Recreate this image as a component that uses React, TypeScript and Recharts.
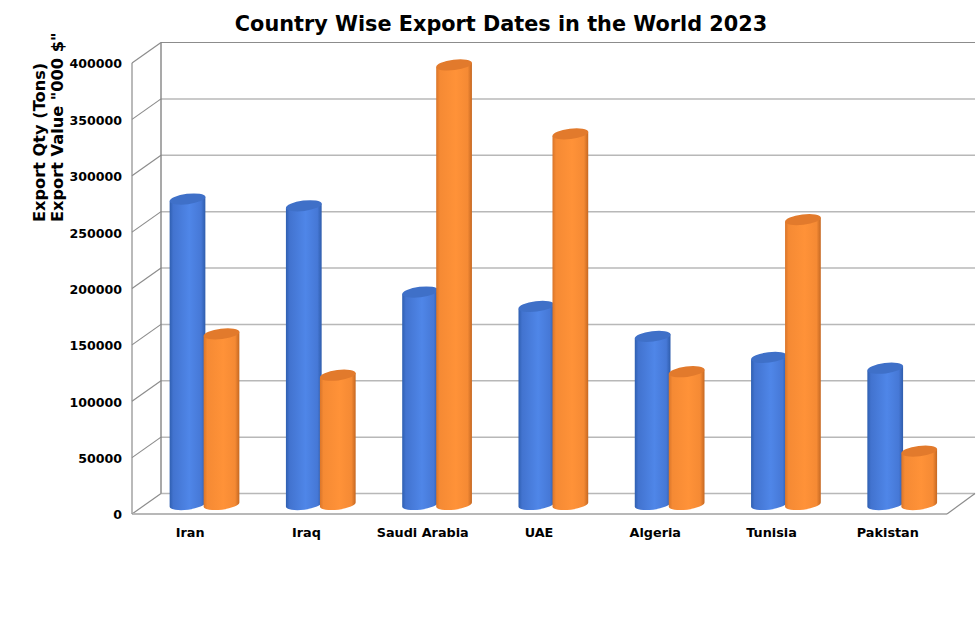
import React from "react";
import { BarChart, Bar, XAxis, YAxis, CartesianGrid } from "recharts";

const categories = ["Iran", "Iraq", "Saudi Arabia", "UAE", "Algeria", "Tunisia", "Pakistan"];
const exportQty = [270500, 264500, 188000, 175200, 148700, 130000, 120400];
const exportValue = [150900, 114200, 389400, 328300, 117300, 252200, 46900];
const yTicks = [0, 50000, 100000, 150000, 200000, 250000, 300000, 350000, 400000];
const rows = categories.map((name, i) => ({ name, qty: exportQty[i], value: exportValue[i] }));

const DX = 28;
const DY = -20.5;
const PLOT_TOP = 63;
const PLOT_BOTTOM = 514;
const FONT = "'DejaVu Sans', Verdana, sans-serif";

const GridLine = (p: any) => {
  const { x1, x2, y1 } = p;
  const isTop = Math.abs(y1 - PLOT_TOP) < 1;
  const isBottom = Math.abs(y1 - PLOT_BOTTOM) < 1;
  return (
    <g fill="none">
      <line x1={x1 + DX} x2={x2 + DX} y1={y1 + DY} y2={y1 + DY}
        stroke={isTop ? "#8c8c8c" : "#b8b8b8"} strokeWidth={isTop ? 1.1 : 1.5} />
      <line x1={x1 - 1} x2={x1 + DX} y1={y1} y2={y1 + DY} stroke="#8c8c8c" strokeWidth={1.2} />
      {isTop && (
        <>
          <line x1={x1 - 1} x2={x1 - 1} y1={PLOT_TOP} y2={PLOT_BOTTOM} stroke="#8c8c8c" strokeWidth={1.2} />
          <line x1={x1 + DX} x2={x1 + DX} y1={PLOT_TOP + DY} y2={PLOT_BOTTOM + DY} stroke="#858585" strokeWidth={1.4} />
        </>
      )}
      {isBottom && (
        <>
          <line x1={x1 - 1} x2={x2} y1={y1} y2={y1} stroke="#b8b8b8" strokeWidth={2} />
          <line x1={x2} x2={x2 + DX} y1={y1} y2={y1 + DY} stroke="#8c8c8c" strokeWidth={1.2} />
        </>
      )}
    </g>
  );
};

const makeCylinder = (grad: string, topFill: string) => (p: any) => {
  const { x, y, width, height } = p;
  const rx = 18;
  const ry = 5.2;
  const rot = -7;
  const cx = x + width / 2 + 13.5;
  const yTop = y - 10;
  const yBase = y + height - 9.5;
  const c = Math.cos((rot * Math.PI) / 180) * rx;
  const s = Math.sin((rot * Math.PI) / 180) * rx;
  const body = `M${cx - c} ${yTop - s} L${cx - c} ${yBase - s} A${rx} ${ry} ${rot} 0 0 ${cx + c} ${yBase + s} L${cx + c} ${yTop + s} Z`;
  return (
    <g>
      <path d={body} fill={`url(#${grad})`} />
      <ellipse cx={cx} cy={yTop} rx={rx} ry={ry} fill={topFill} transform={`rotate(${rot} ${cx} ${yTop})`} />
    </g>
  );
};

const BlueCylinder = makeCylinder("blueCyl", "#3f70c8");
const OrangeCylinder = makeCylinder("orangeCyl", "#e27a2c");

const YTitle = () => (
  <g fontFamily={FONT} fontWeight="bold" fontSize={16.2} fill="#000">
    <text transform="translate(45,222) rotate(-90)">Export Qty (Tons)</text>
    <text transform="translate(63,222) rotate(-90)">Export Value "000 $"</text>
  </g>
);

export default function App() {
  return (
    <div style={{ position: "absolute", left: 0, top: 0, width: 977, height: 638, background: "#fff" }}>
      <BarChart width={977} height={638} data={rows} barSize={34} barGap={0}
        margin={{ top: PLOT_TOP, right: 30, bottom: 94, left: 63 }}>
        <defs>
          <linearGradient id="blueCyl" x1="0" x2="1" y1="0" y2="0">
            <stop offset="0" stopColor="#2f5fb0" />
            <stop offset="0.1" stopColor="#4273cf" />
            <stop offset="0.55" stopColor="#4f86e8" />
            <stop offset="0.88" stopColor="#4678d6" />
            <stop offset="1" stopColor="#2f5dac" />
          </linearGradient>
          <linearGradient id="orangeCyl" x1="0" x2="1" y1="0" y2="0">
            <stop offset="0" stopColor="#d9752a" />
            <stop offset="0.1" stopColor="#f58a34" />
            <stop offset="0.55" stopColor="#ff9238" />
            <stop offset="0.88" stopColor="#f58a34" />
            <stop offset="1" stopColor="#c56822" />
          </linearGradient>
        </defs>
        <CartesianGrid vertical={false} horizontal={GridLine} />
        <XAxis dataKey="name" axisLine={false} tickLine={false} height={30} interval={0} tickSize={0} tickMargin={14}
          tick={{ fontFamily: FONT, fontWeight: "bold", fontSize: 12.8, fill: "#000", dx: -1 }} />
        <YAxis domain={[0, 400000]} ticks={yTicks} width={70} axisLine={false} tickLine={false} tickSize={0} tickMargin={11}
          tick={{ fontFamily: FONT, fontWeight: "bold", fontSize: 12.6, fill: "#000", dy: 1 }} />
        <Bar dataKey="qty" isAnimationActive={false} shape={BlueCylinder} fill="#4f86e8" />
        <Bar dataKey="value" isAnimationActive={false} shape={OrangeCylinder} fill="#ff9238" />
        <text x={501} y={31} textAnchor="middle" fontFamily={FONT} fontWeight="bold" fontSize={20.8} fill="#000">
          Country Wise Export Dates in the World 2023
        </text>
        <YTitle />
      </BarChart>
    </div>
  );
}
